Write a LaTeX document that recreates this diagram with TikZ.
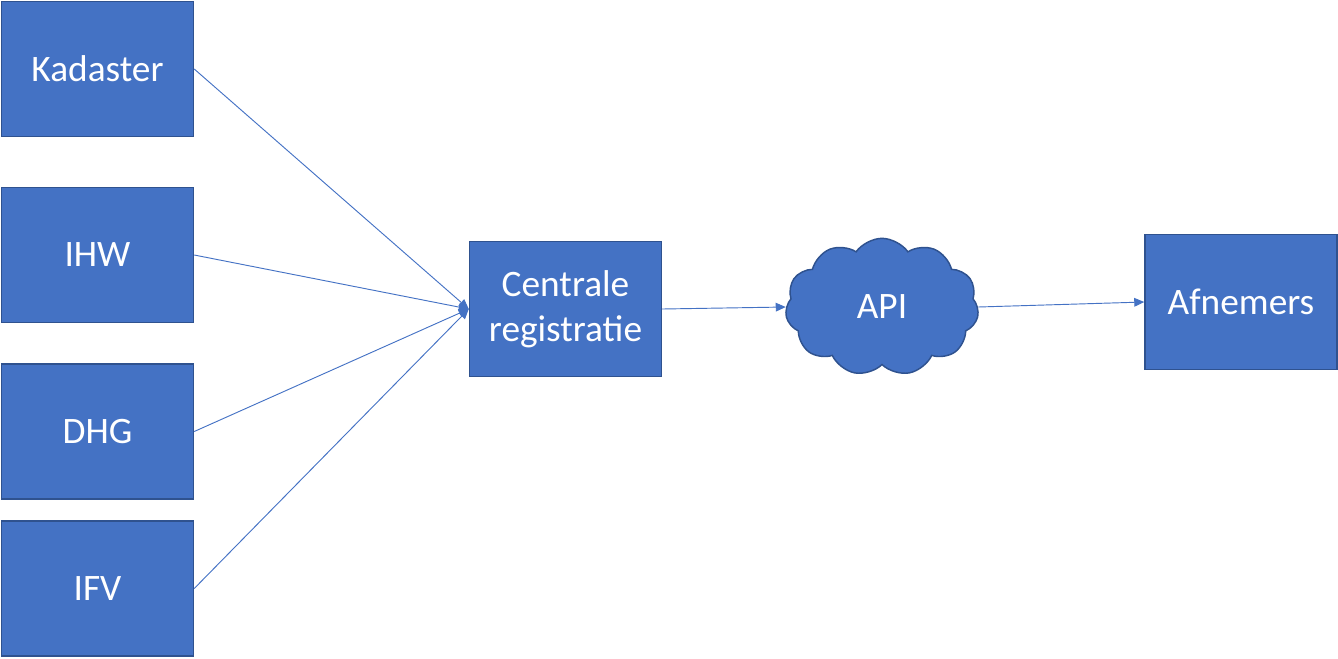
\documentclass[tikz,border=0pt]{standalone}
\usepackage{fontspec}
\setmainfont{Carlito}
\usepackage{tikz}
\usetikzlibrary{positioning}
\usetikzlibrary{shapes.symbols}
\usetikzlibrary{arrows.meta}
\definecolor{boxblue}{HTML}{4472C4}
\definecolor{boxedge}{HTML}{2F528F}

\begin{document}
\begin{tikzpicture}[x=0.75pt,y=-0.75pt,
    box/.style={rectangle,draw=boxedge,fill=boxblue,line width=1.1pt,text=white,
      minimum width={144pt},minimum height={101pt},inner sep=2pt,align=center,
      font=\fontsize{28}{34}\selectfont},
    wolk/.style={cloud,cloud puffs=11,cloud puff arc=110,aspect=1.4,draw=boxedge,fill=boxblue,
      line width=1.1pt,text=white,minimum width={145pt},minimum height={103pt},
      inner sep=0pt,font=\fontsize{28}{34}\selectfont},
    link/.style={-{Triangle[length=7.5pt,width=6.5pt]},draw=boxblue,line width=0.7pt}]
    \useasboundingbox (0,0) rectangle (1338,658);
    \node (kad) at (97.5, 69) [box] {Kadaster};
    \node (ihw) at (97.5, 255) [box] {IHW};
    \node (dhg) at (97.5, 431.5) [box] {DHG};
    \node (ifv) at (97.5, 588.5) [box] {IFV};
    \node (cr) at (565.5, 309) [box] {Centrale\\registratie};
    \node (api) at (882, 307) [wolk] {API};
    \node (afn) at (1241, 302) [box] {Afnemers};
    \draw [link] (kad.east) to (cr.west);
    \draw [link] (ihw.east) to (cr.west);
    \draw [link] (dhg.east) to (cr.west);
    \draw [link] (ifv.east) to (cr.west);
    \draw [link] (cr.east) to (api.west);
    \draw [link] (api.east) to (afn.west);
  \end{tikzpicture}
\end{document}
